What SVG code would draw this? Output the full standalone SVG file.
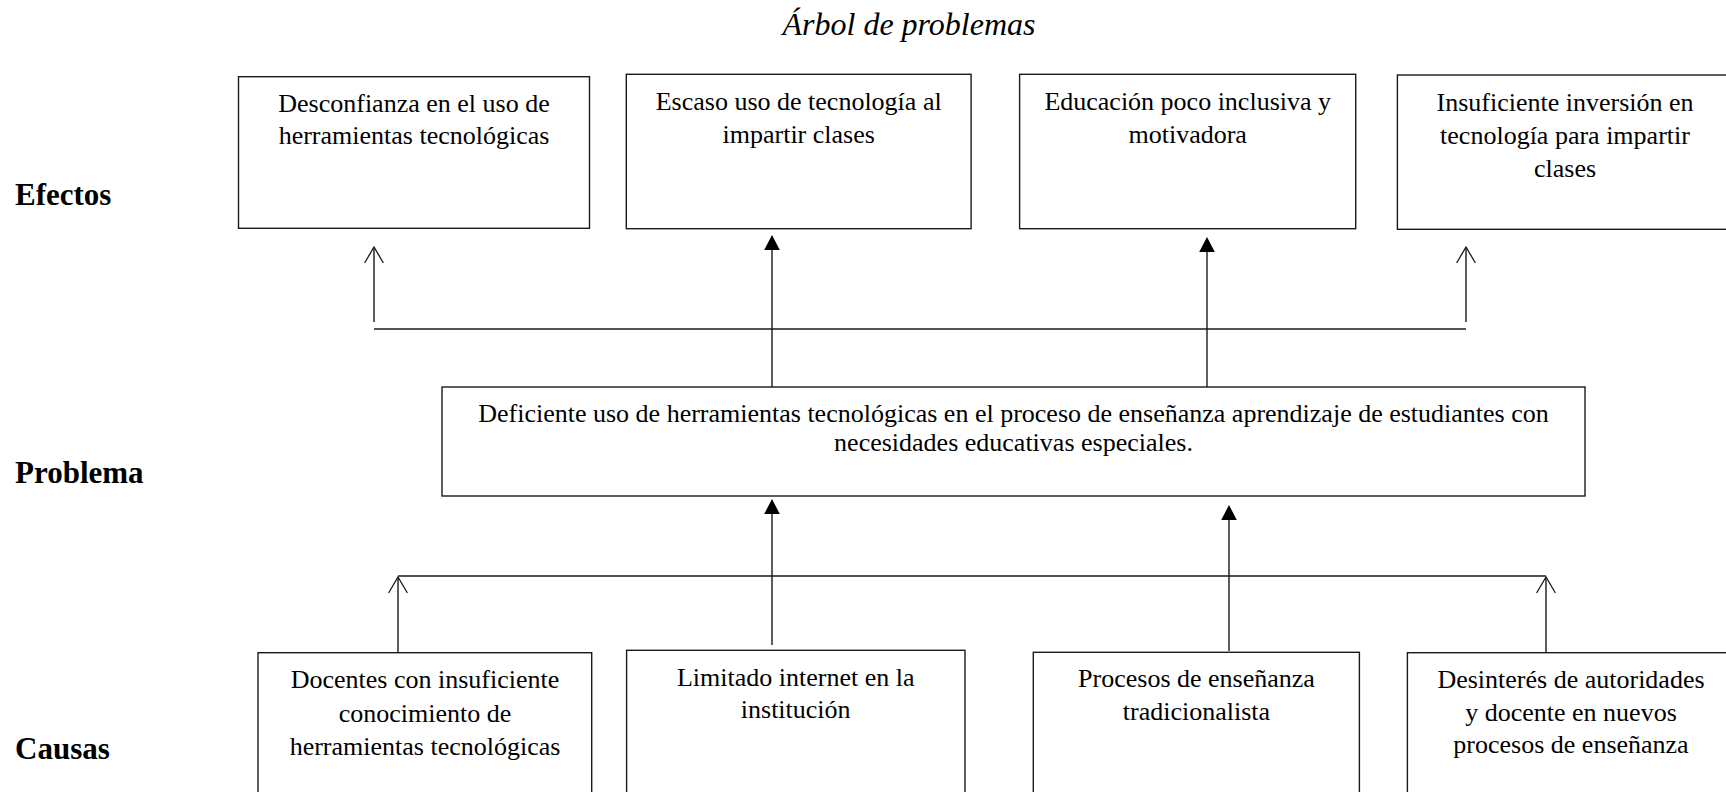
<svg xmlns="http://www.w3.org/2000/svg" width="1726" height="792" viewBox="0 0 1726 792">
<style>
text{font-family:"Liberation Serif","Times New Roman",serif;fill:#000}
.t{font-size:26px;text-anchor:middle}
.lbl{font-size:31px;font-weight:bold}
.title{font-size:32px;font-style:italic;text-anchor:middle}
.box{fill:#fff;stroke:#1a1a1a;stroke-width:1.4}
.ln{fill:none;stroke:#1a1a1a;stroke-width:1.4}
.open{fill:none;stroke:#1a1a1a;stroke-width:1.3}
.fill{fill:#000;stroke:none}
</style>
<rect width="1726" height="792" fill="#fff"/>
<text class="title" x="909" y="35">Árbol de problemas</text>
<g id="labels">
<text class="lbl" x="15" y="205">Efectos</text>
<text class="lbl" x="15" y="483">Problema</text>
<text class="lbl" x="15" y="759">Causas</text>
</g>
<g id="connectors">
<path class="ln" d="M374 329H1466"/>
<path class="ln" d="M374 322V247M1466 322V247"/>
<path class="open" d="M364.6 263L374 247L383.4 263M1456.6 263L1466 247L1475.4 263"/>
<path class="ln" d="M772 387V248M1207 387V250"/>
<path class="fill" d="M772 235L779.8 250H764.2ZM1207 237L1214.8 252H1199.2Z"/>
<path class="ln" d="M398 576H1546"/>
<path class="ln" d="M398 653V577M1546 653V577"/>
<path class="open" d="M388.6 593L398 577L407.4 593M1536.6 593L1546 577L1555.4 593"/>
<path class="ln" d="M772 645V512M1229 651V518"/>
<path class="fill" d="M772 499L779.8 514H764.2ZM1229 505L1236.8 520H1221.2Z"/>
</g>
<g id="e1"><rect class="box" x="238.5" y="76.7" width="351" height="151.6"/>
<text class="t" x="414" y="111.7">Desconfianza en el uso de</text>
<text class="t" x="414" y="144.3">herramientas tecnológicas</text></g>
<g id="e2"><rect class="box" x="626.3" y="74.3" width="344.8" height="154.4"/>
<text class="t" x="798.7" y="110">Escaso uso de tecnología al</text>
<text class="t" x="798.7" y="142.7">impartir clases</text></g>
<g id="e3"><rect class="box" x="1019.6" y="74.3" width="336.1" height="154.4"/>
<text class="t" x="1187.7" y="110">Educación poco inclusiva y</text>
<text class="t" x="1187.7" y="142.7">motivadora</text></g>
<g id="e4"><rect class="box" x="1397.4" y="75" width="340" height="154.3"/>
<text class="t" x="1565" y="111">Insuficiente inversión en</text>
<text class="t" x="1565" y="143.5">tecnología para impartir</text>
<text class="t" x="1565" y="176.5">clases</text></g>
<g id="problema"><rect class="box" x="442" y="387" width="1143" height="109"/>
<text class="t" x="1013.5" y="422">Deficiente uso de herramientas tecnológicas en el proceso de enseñanza aprendizaje de estudiantes con</text>
<text class="t" x="1013.5" y="451">necesidades educativas especiales.</text></g>
<g id="c1"><rect class="box" x="258" y="652.7" width="333.7" height="160"/>
<text class="t" x="425" y="688.3">Docentes con insuficiente</text>
<text class="t" x="425" y="721.7">conocimiento de</text>
<text class="t" x="425" y="755">herramientas tecnológicas</text></g>
<g id="c2"><rect class="box" x="626.6" y="650.3" width="338.4" height="160"/>
<text class="t" x="795.7" y="686">Limitado internet en la</text>
<text class="t" x="795.7" y="718.3">institución</text></g>
<g id="c3"><rect class="box" x="1033.3" y="652.3" width="326.1" height="160"/>
<text class="t" x="1196.5" y="687.3">Procesos de enseñanza</text>
<text class="t" x="1196.5" y="720">tradicionalista</text></g>
<g id="c4"><rect class="box" x="1407.4" y="652.7" width="340" height="160"/>
<text class="t" x="1571" y="688.3">Desinterés de autoridades</text>
<text class="t" x="1571" y="720.7">y docente en nuevos</text>
<text class="t" x="1571" y="753.3">procesos de enseñanza</text></g>
</svg>
